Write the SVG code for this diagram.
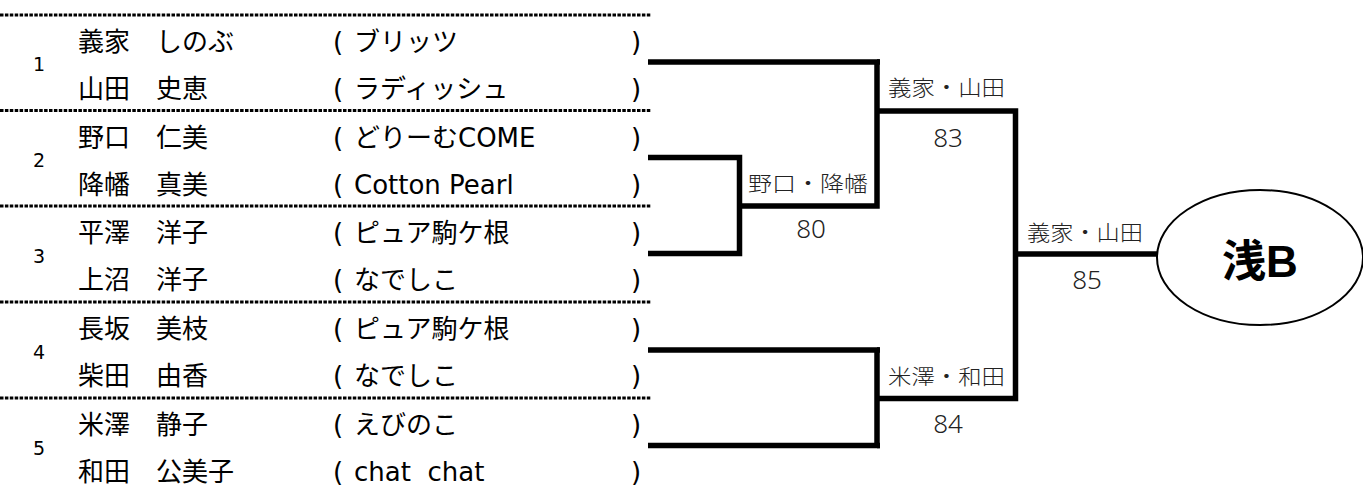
<svg xmlns="http://www.w3.org/2000/svg" width="1363" height="491" viewBox="0 0 1363 491">
<style>
.dot{stroke:#000;stroke-width:3;stroke-dasharray:3.5 1.4;fill:none}
.br{stroke:#000;stroke-width:5.5;fill:none;stroke-linecap:butt}
.t{font-family:"DejaVu Sans","Noto Sans CJK JP",sans-serif;font-size:26px;fill:#000;white-space:pre}
.n{font-family:"DejaVu Sans",sans-serif;font-size:19px;fill:#000}
.lb{font-family:"Noto Sans CJK JP",sans-serif;font-size:21px;font-weight:300;fill:#222}
.sc{font-family:"Noto Sans","Noto Sans CJK JP",sans-serif;font-size:26px;font-weight:300;fill:#222;text-anchor:middle}
.big{font-family:"Liberation Sans","Noto Sans CJK JP",sans-serif;font-size:44px;font-weight:bold;fill:#000;text-anchor:middle}
</style>
<g id="separators">
<line class="dot" x1="0" y1="15" x2="651" y2="15"/>
<line class="dot" x1="0" y1="110.5" x2="651" y2="110.5"/>
<line class="dot" x1="0" y1="206" x2="651" y2="206"/>
<line class="dot" x1="0" y1="302" x2="651" y2="302"/>
<line class="dot" x1="0" y1="398" x2="651" y2="398"/>
</g>
<g id="pair1">
<text class="n" x="33" y="71">1</text>
<text class="t" x="78" y="51">義家　しのぶ</text>
<text class="t" y="51"><tspan x="333">(</tspan><tspan x="354">ブリッツ</tspan><tspan x="631">)</tspan></text>
<text class="t" x="78" y="98">山田　史恵</text>
<text class="t" y="98"><tspan x="333">(</tspan><tspan x="354">ラディッシュ</tspan><tspan x="631">)</tspan></text>
</g>
<g id="pair2">
<text class="n" x="33" y="167">2</text>
<text class="t" x="78" y="146.5">野口　仁美</text>
<text class="t" y="146.5"><tspan x="333">(</tspan><tspan x="354">どりーむCOME</tspan><tspan x="631">)</tspan></text>
<text class="t" x="78" y="193.5">降幡　真美</text>
<text class="t" y="193.5"><tspan x="333">(</tspan><tspan x="354">Cotton Pearl</tspan><tspan x="631">)</tspan></text>
</g>
<g id="pair3">
<text class="n" x="33" y="263">3</text>
<text class="t" x="78" y="242">平澤　洋子</text>
<text class="t" y="242"><tspan x="333">(</tspan><tspan x="354">ピュア駒ケ根</tspan><tspan x="631">)</tspan></text>
<text class="t" x="78" y="289">上沼　洋子</text>
<text class="t" y="289"><tspan x="333">(</tspan><tspan x="354">なでしこ</tspan><tspan x="631">)</tspan></text>
</g>
<g id="pair4">
<text class="n" x="33" y="359">4</text>
<text class="t" x="78" y="338">長坂　美枝</text>
<text class="t" y="338"><tspan x="333">(</tspan><tspan x="354">ピュア駒ケ根</tspan><tspan x="631">)</tspan></text>
<text class="t" x="78" y="385">柴田　由香</text>
<text class="t" y="385"><tspan x="333">(</tspan><tspan x="354">なでしこ</tspan><tspan x="631">)</tspan></text>
</g>
<g id="pair5">
<text class="n" x="33" y="455">5</text>
<text class="t" x="78" y="434">米澤　静子</text>
<text class="t" y="434"><tspan x="333">(</tspan><tspan x="354">えびのこ</tspan><tspan x="631">)</tspan></text>
<text class="t" x="78" y="481">和田　公美子</text>
<text class="t" y="481"><tspan x="333">(</tspan><tspan x="354">chat  chat</tspan><tspan x="631">)</tspan></text>
</g>
<g id="connectors">
<polyline class="br" points="648,62 877,62 877,206 739,206"/>
<polyline class="br" points="648,157.5 739.5,157.5 739.5,253.5 648,253.5"/>
<polyline class="br" points="877,111 1015.5,111 1015.5,398.5 877,398.5"/>
<polyline class="br" points="648,350 877,350 877,445.5 648,445.5"/>
<line class="br" x1="877" y1="62" x2="880" y2="62"/>
<line class="br" x1="877" y1="350" x2="880" y2="350"/>
<line class="br" x1="877" y1="445.5" x2="880" y2="445.5"/>
<line class="br" x1="1015.5" y1="254" x2="1158" y2="254"/>
</g>
<g id="results">
<text class="lb" x="888" y="95" textLength="117" lengthAdjust="spacingAndGlyphs">義家・山田</text>
<text class="sc" x="948" y="147">83</text>
<text class="lb" x="748" y="191" textLength="120" lengthAdjust="spacingAndGlyphs">野口・降幡</text>
<text class="sc" x="811" y="238">80</text>
<text class="lb" x="888" y="384" textLength="117" lengthAdjust="spacingAndGlyphs">米澤・和田</text>
<text class="sc" x="948" y="433">84</text>
<text class="lb" x="1027" y="240" textLength="116" lengthAdjust="spacingAndGlyphs">義家・山田</text>
<text class="sc" x="1087" y="289">85</text>
</g>
<g id="winner">
<ellipse cx="1260" cy="257.5" rx="103" ry="67.5" fill="#fff" stroke="#000" stroke-width="2"/>
<text class="big" x="1260" y="277">浅B</text>
</g>
</svg>
